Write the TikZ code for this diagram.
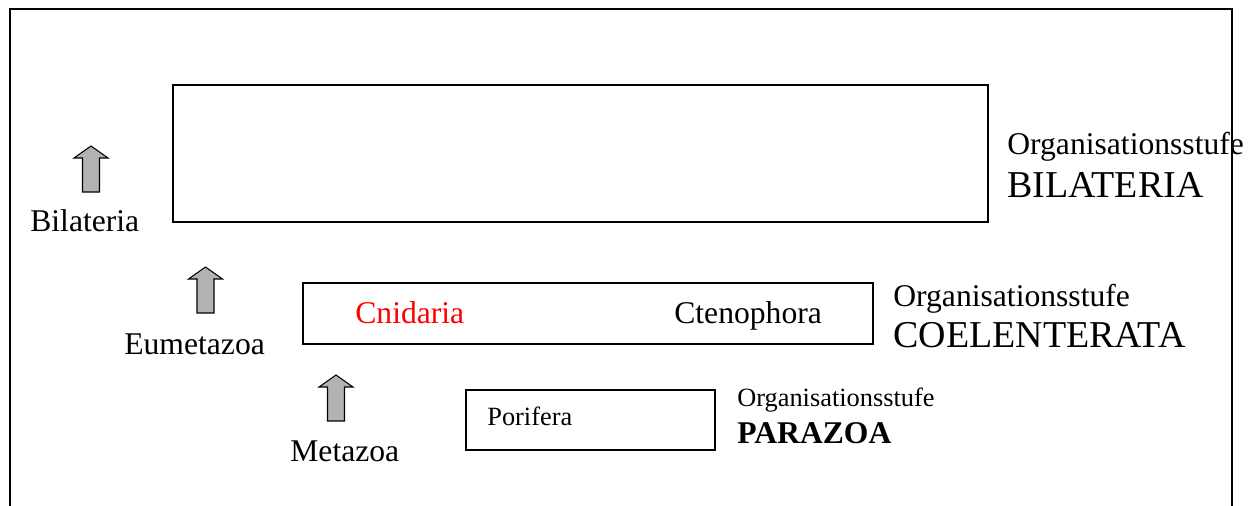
\documentclass[tikz,border=0pt]{standalone}
\usepackage{fontspec}
\setmainfont{Liberation Serif}
\tikzset{
	lbl/.style={inner sep=0pt, anchor=base west, font=\fontsize{18}{20}\selectfont},
	lblsmall/.style={lbl, font=\fontsize{15}{17}\selectfont},
	stagename/.style={lbl, font=\fontsize{21.6}{24}\selectfont},
	box/.style={line width=0.8pt},
	blockarrow/.pic={
		\draw [fill=gray!60, line width=0.6pt] (-8.5,46)--(-8.5,12)--(-17,12)--(0,0)--(17,12)--(8.5,12)--(8.5,46)--cycle;
	}
}
\begin{document}
\begin{tikzpicture}[x=0.02cm, y=-0.02cm]
	  \useasboundingbox (0,0) rectangle (1258,506);

	  \draw [ line width=1.2pt ] (10,506)--(10,9)--(1232,9)--(1232,506);

	  \draw [box] (173,85) rectangle (988,222);
	  \draw [box] (303,283) rectangle (873,344);
	  \draw [box] (466,390) rectangle (715,450);

	  \pic at (91,146) {blockarrow};
	  \pic at (205.5,267) {blockarrow};
	  \pic at (336,375) {blockarrow};

	  \node [lbl] (bilateria) at (30,232) {Bilateria};
	  \node [lbl] (eumetazoa) at (124,355) {Eumetazoa};
	  \node [lbl] (metazoa) at (290,461) {Metazoa};

	  \node [lbl, text=red] (cnidaria) at (355,324) {Cnidaria};
	  \node [lbl] (ctenophora) at (674,324) {Ctenophora};
	  \node [lblsmall] (porifera) at (487,426) {Porifera};

	  \node [lbl] (stufebil) at (1007,155) {Organisationsstufe};
	  \node [stagename] (bilstage) at (1007,198) {BILATERIA};
	  \node [lbl] (stufecoel) at (893,307) {Organisationsstufe};
	  \node [stagename] (coelstage) at (893,348) {COELENTERATA};
	  \node [lblsmall] (stufepara) at (737,407) {Organisationsstufe};
	  \node [lbl, font=\fontsize{18}{20}\selectfont\bfseries] (parastage) at (737,444) {PARAZOA};
\end{tikzpicture}
\end{document}
